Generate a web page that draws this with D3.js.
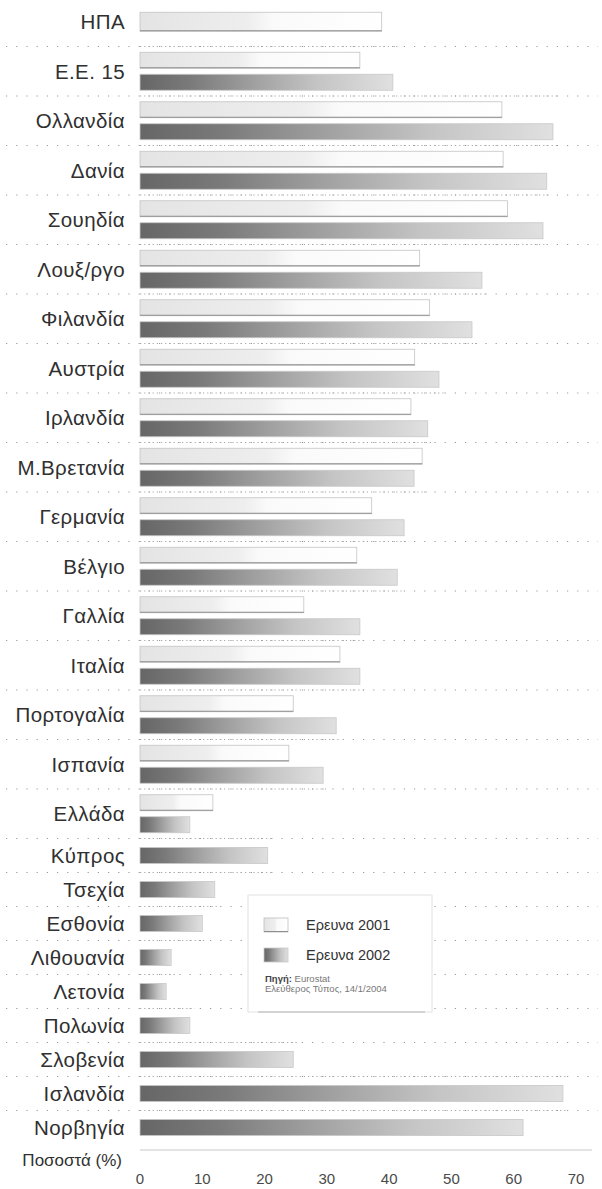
<!DOCTYPE html>
<html><head><meta charset="utf-8">
<script src="https://cdn.jsdelivr.net/npm/d3@7"></script>
<style>
html,body{margin:0;padding:0;background:#fff;}
svg{display:block;font-family:"Liberation Sans",Arial,sans-serif;}
</style></head>
<body>
<svg id="chart" width="602" height="1189"></svg>
<script>
// ---- data ----
const categories = ["ΗΠΑ","Ε.Ε. 15","Ολλανδία","Δανία","Σουηδία","Λουξ/ργο","Φιλανδία","Αυστρία","Ιρλανδία","Μ.Βρετανία","Γερμανία","Βέλγιο","Γαλλία","Ιταλία","Πορτογαλία","Ισπανία","Ελλάδα","Κύπρος","Τσεχία","Εσθονία","Λιθουανία","Λετονία","Πολωνία","Σλοβενία","Ισλανδία","Νορβηγία"];
const survey2001 = [38.8,35.3,58.1,58.3,59.0,44.9,46.5,44.1,43.5,45.3,37.2,34.8,26.3,32.1,24.6,23.9,11.7,null,null,null,null,null,null,null,null,null];
const survey2002 = [null,40.6,66.3,65.3,64.7,54.9,53.3,48.0,46.2,44.0,42.4,41.3,35.3,35.3,31.5,29.4,8.0,20.5,12.0,10.0,5.0,4.2,8.0,24.6,67.9,61.5];
const tickValues = [0,10,20,30,40,50,60,70];
const axisTitle = "Ποσοστά (%)";
const legendLabels = ["Ερευνα 2001","Ερευνα 2002"];
const sourceLabel = "Πηγή:";
const sourceName = "Eurostat";
const sourceLine2 = "Ελεύθερος Τύπος, 14/1/2004";

// ---- layout ----
const svg = d3.select("#chart");
const x = d3.scaleLinear().domain([0,70]).range([140,576]);
const tallH = 49.5, shortH = 34, top0 = -3;

const rows = [];
let yCursor = top0;
categories.forEach((c,i)=>{
  const h = survey2001[i] != null ? tallH : shortH;
  rows.push({name:c, v1:survey2001[i], v2:survey2002[i], y0:yCursor, h:h, c:yCursor+h/2});
  yCursor += h;
});

// gradients
const defs = svg.append("defs");
const g2 = defs.append("linearGradient").attr("id","grad2002");
[[0,"#666666"],[0.2,"#7a7a7a"],[0.45,"#a0a0a0"],[0.7,"#c4c4c4"],[1,"#e0e0e0"]]
  .forEach(s=>g2.append("stop").attr("offset",s[0]).attr("stop-color",s[1]));
const g1 = defs.append("linearGradient").attr("id","grad2001");
[[0,"#e4e4e4"],[0.45,"#eeeeee"],[0.55,"#fafafa"],[1,"#ffffff"]]
  .forEach(s=>g1.append("stop").attr("offset",s[0]).attr("stop-color",s[1]));

// separators
rows.forEach((r,i)=>{
  if(i===0) return;
  const prev = rows[i-1];
  const ext = d3.max([prev.v1,prev.v2,r.v1,r.v2].filter(v=>v!=null));
  svg.append("line").attr("x1",6).attr("x2",598).attr("y1",r.y0).attr("y2",r.y0)
    .attr("stroke","#9a9a9a").attr("stroke-width",1.2).attr("stroke-dasharray","1.2,9");
  svg.append("line").attr("x1",x(0)).attr("x2",x(ext)+5).attr("y1",r.y0).attr("y2",r.y0)
    .attr("stroke","#a8a8a8").attr("stroke-width",1.2).attr("stroke-dasharray","1.2,3");
});

// bars
const barH = 16;
rows.forEach(r=>{
  const both = r.v1!=null && r.v2!=null;
  if(r.v1!=null){
    const h = both ? barH : 19;
    const y = both ? r.c-19 : r.c-h/2;
    svg.append("rect").attr("x",x(0)).attr("y",y).attr("width",x(r.v1)-x(0)).attr("height",h)
      .attr("fill","url(#grad2001)").attr("stroke","#c4c4c4").attr("stroke-width",0.8);
    svg.append("line").attr("x1",x(0)).attr("x2",x(r.v1)).attr("y1",y+h-0.5).attr("y2",y+h-0.5)
      .attr("stroke","#8e8e8e").attr("stroke-width",1);
  }
  if(r.v2!=null){
    const y = both ? r.c+3 : r.c-barH/2;
    svg.append("rect").attr("x",x(0)).attr("y",y).attr("width",x(r.v2)-x(0)).attr("height",barH)
      .attr("fill","url(#grad2002)").attr("stroke","#c8c8c8").attr("stroke-width",0.8);
  }
});

// category labels
svg.append("g").selectAll("text").data(rows).join("text")
  .attr("x",125).attr("y",d=>d.c).attr("dy","0.36em")
  .attr("text-anchor","end").attr("font-size",20.5).attr("letter-spacing",0.4).attr("fill","#303030")
  .text(d=>d.name);

// axis
const axisY = 1150;
svg.append("line").attr("x1",x(0)).attr("x2",592).attr("y1",axisY).attr("y2",axisY)
  .attr("stroke","#c8c8c8").attr("stroke-width",1);
svg.append("g").selectAll("text").data(tickValues).join("text")
  .attr("x",d=>x(d)).attr("y",1179).attr("dy","0.36em").attr("text-anchor","middle")
  .attr("font-size",15).attr("fill","#4a4a4a").text(d=>d);
svg.append("text").attr("x",122).attr("y",1160).attr("dy","0.36em").attr("text-anchor","end")
  .attr("font-size",17).attr("fill","#303030").text(axisTitle);

// legend
const lg = svg.append("g");
lg.append("rect").attr("x",248).attr("y",895).attr("width",184).attr("height",117)
  .attr("fill","#fff").attr("stroke","#e2e2e2").attr("stroke-width",1);
lg.append("line").attr("x1",258).attr("x2",425).attr("y1",1012).attr("y2",1012)
  .attr("stroke","#b5b5b5").attr("stroke-width",1);
const ly = [925,955];
legendLabels.forEach((t,i)=>{
  if(i===0){
    lg.append("rect").attr("x",264).attr("y",ly[i]-7).attr("width",24).attr("height",14)
      .attr("fill","url(#grad2001)").attr("stroke","#bdbdbd").attr("stroke-width",0.8);
    lg.append("line").attr("x1",264).attr("x2",288).attr("y1",ly[i]+6.5).attr("y2",ly[i]+6.5)
      .attr("stroke","#8e8e8e");
  } else {
    lg.append("rect").attr("x",264).attr("y",ly[i]-7).attr("width",24).attr("height",14)
      .attr("fill","url(#grad2002)").attr("stroke","#c8c8c8").attr("stroke-width",0.8);
  }
  lg.append("text").attr("x",306).attr("y",ly[i]).attr("dy","0.36em")
    .attr("font-size",14.5).attr("fill","#333").text(t);
});
const src = lg.append("text").attr("x",265).attr("y",979).attr("dy","0.36em").attr("font-size",9.5).attr("fill","#444");
src.append("tspan").attr("font-weight","bold").text(sourceLabel + " ");
src.append("tspan").attr("fill","#777").text(sourceName);
lg.append("text").attr("x",265).attr("y",989).attr("dy","0.36em").attr("font-size",9.5)
  .attr("fill","#777").text(sourceLine2);
</script>
</body></html>
